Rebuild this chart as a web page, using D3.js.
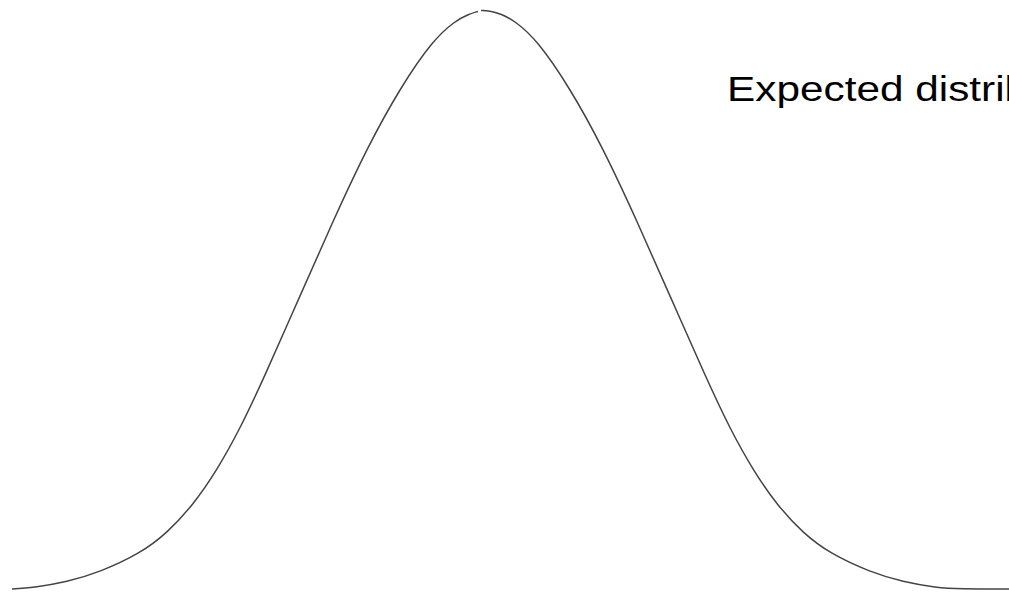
<!DOCTYPE html>
<html>
<head>
<meta charset="utf-8">
<script src="https://cdn.jsdelivr.net/npm/d3@7"></script>
<style>
    html, body { margin: 0; padding: 0; background: #fff; overflow: hidden; }
    svg { display: block; }
</style>
</head>
<body>
<div id="chart"></div>
<script>
// Dataset: density curve (z in std devs, density)
const leftZ = [-2.956, -2.825, -2.6125, -2.406, -2.156, -1.9875, -1.825, -1.675, -1.531, -1.3875, -1.156, -0.95, -0.7375, -0.531, -0.325, -0.1875, -0.1, -0.044]
const leftDensity = [0, 0.0009, 0.0049, 0.0117, 0.0245, 0.0386, 0.0580, 0.0821, 0.1107, 0.1444, 0.2026, 0.2542, 0.3047, 0.3461, 0.3793, 0.3924, 0.3972, 0.3990]

const rightZ = [-0.025, 0.05, 0.1, 0.1875, 0.325, 0.531, 0.7375, 0.95, 1.156, 1.3875, 1.531, 1.675, 1.825, 1.9875, 2.156, 2.406, 2.6125, 2.825, 2.956, 3.294]
const rightDensity = [0.3997, 0.3990, 0.3972, 0.3924, 0.3793, 0.3461, 0.3047, 0.2542, 0.2026, 0.1444, 0.1107, 0.0821, 0.0580, 0.0386, 0.0245, 0.0117, 0.0049, 0.0009, 0, 0]

const labelText = "Expected distribution"

function draw() {
    //  Dimensions
    let dimensions = {
        width: 1009,
        height: 594,
    }

    const svg = d3.select("#chart")
        .append("svg")
        .attr("width", dimensions.width)
        .attr("height", dimensions.height)

    const xScale = d3.scaleLinear()
        .domain([-3, 3])
        .range([5, 965])

    const yScale = d3.scaleLinear()
        .domain([0, 0.4])
        .range([589, 10])

    const line = d3.line()
        .x((d) => xScale(d[0]))
        .y((d) => yScale(d[1]))
        .curve(d3.curveBasis)

    const halves = [
        d3.zip(leftZ, leftDensity),
        d3.zip(rightZ, rightDensity),
    ]

    // Draw curve halves
    svg.selectAll("path.curve")
        .data(halves)
        .join("path")
        .attr("class", "curve")
        .attr("d", line)
        .attr("fill", "none")
        .attr("stroke", "#444")
        .attr("stroke-width", 1.5)

    // Label (stretched horizontally like the original)
    svg.append("text")
        .attr("transform", "translate(727, 101) scale(1.21, 1)")
        .attr("fill", "black")
        .style("font-family", "'Liberation Sans', Arial, sans-serif")
        .style("font-size", "35px")
        .text(labelText)
}

draw();
</script>
</body>
</html>
